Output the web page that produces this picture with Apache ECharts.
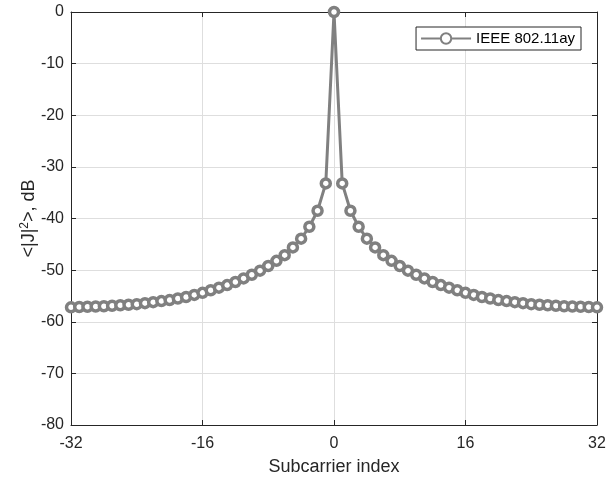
<!DOCTYPE html>
<html>
<head>
<meta charset="utf-8">
<script src="https://cdn.jsdelivr.net/npm/echarts@6/dist/echarts.min.js"></script>
<style>
  html, body { margin: 0; padding: 0; background: #fff; }
  #chart { width: 616px; height: 479px; }
</style>
</head>
<body>
<div id="chart"></div>
<script>
// Subcarrier indices -32..32
const subcarriers = [
  -32, -31, -30, -29, -28, -27, -26, -25, -24, -23, -22, -21, -20, -19, -18, -17,
  -16, -15, -14, -13, -12, -11, -10, -9, -8, -7, -6, -5, -4, -3, -2, -1,
  0,
  1, 2, 3, 4, 5, 6, 7, 8, 9, 10, 11, 12, 13, 14, 15, 16,
  17, 18, 19, 20, 21, 22, 23, 24, 25, 26, 27, 28, 29, 30, 31, 32
];

// Mean interference power <|J|^2> per subcarrier, dB
const powerDb = [
  -57.2, -57.15, -57.1, -57.05, -57.0, -56.9, -56.8, -56.7, -56.6, -56.4, -56.2, -56.0, -55.8, -55.5, -55.2, -54.8,
  -54.4, -53.9, -53.4, -52.9, -52.3, -51.6, -50.9, -50.1, -49.2, -48.2, -47.1, -45.6, -43.9, -41.6, -38.5, -33.2,
  0,
  -33.2, -38.5, -41.6, -43.9, -45.6, -47.1, -48.2, -49.2, -50.1, -50.9, -51.6, -52.3, -52.9, -53.4, -53.9, -54.4,
  -54.8, -55.2, -55.5, -55.8, -56.0, -56.2, -56.4, -56.6, -56.7, -56.8, -56.9, -57.0, -57.05, -57.1, -57.15, -57.2
];

const xTicks = [-32, -16, 0, 16, 32];
const yTicks = [-80, -70, -60, -50, -40, -30, -20, -10, 0];
const seriesName = 'IEEE 802.11ay';

const FONT = 'Liberation Sans, Arial, Helvetica, sans-serif';
const AXIS_COLOR = '#262626';
const GRID_COLOR = '#dedede';
const LINE_COLOR = '#808080';

const chart = echarts.init(document.getElementById('chart'), null, { renderer: 'canvas' });

const points = subcarriers.map((x, i) => [x, powerDb[i]]);

const xBase = {
  type: 'value',
  min: xTicks[0],
  max: xTicks[xTicks.length - 1],
  interval: 16,
  axisLine: { show: true, onZero: false, lineStyle: { color: AXIS_COLOR, width: 1 } },
  axisTick: { show: true, inside: true, length: 5, lineStyle: { color: AXIS_COLOR } }
};
const yBase = {
  type: 'value',
  min: yTicks[0],
  max: yTicks[yTicks.length - 1],
  interval: 10,
  axisLine: { show: true, onZero: false, lineStyle: { color: AXIS_COLOR, width: 1 } },
  axisTick: { show: true, inside: true, length: 5, lineStyle: { color: AXIS_COLOR } }
};

chart.setOption({
  backgroundColor: '#ffffff',
  animation: false,
  textStyle: { fontFamily: FONT },
  grid: { left: 71, right: 19, top: 12, bottom: 54, containLabel: false, outerBoundsMode: 'none' },
  legend: {
    data: [seriesName],
    right: 35,
    top: 27,
    backgroundColor: '#ffffff',
    borderColor: '#262626',
    borderWidth: 1,
    borderRadius: 0,
    padding: [4, 6, 4, 4],
    itemWidth: 50,
    itemHeight: 13,
    itemGap: 4,
    textStyle: { fontFamily: FONT, fontSize: 15, color: '#000' }
  },
  xAxis: [
    Object.assign({}, xBase, {
      position: 'bottom',
      name: 'Subcarrier index',
      nameLocation: 'middle',
      nameMoveOverlap: false,
      nameGap: 33,
      nameTextStyle: { fontFamily: FONT, fontSize: 18, color: '#262626' },
      axisLabel: { fontFamily: FONT, fontSize: 16, color: '#262626', margin: 11 },
      splitLine: { show: true, lineStyle: { color: GRID_COLOR, width: 1 } }
    }),
    Object.assign({}, xBase, {
      position: 'top',
      axisLabel: { show: false },
      splitLine: { show: false }
    })
  ],
  yAxis: [
    Object.assign({}, yBase, {
      position: 'left',
      name: '<|J|{sup|2}>, dB',
      nameLocation: 'middle',
      nameMoveOverlap: false,
      nameGap: 31,
      nameRotate: 90,
      nameTextStyle: {
        fontFamily: FONT, fontSize: 18, color: '#262626',
        rich: { sup: { fontFamily: FONT, fontSize: 12, color: '#262626', verticalAlign: 'top', padding: [0, 0, 9, 0] } }
      },
      axisLabel: { fontFamily: FONT, fontSize: 16, color: '#262626', margin: 7 },
      splitLine: { show: true, lineStyle: { color: GRID_COLOR, width: 1 } }
    }),
    Object.assign({}, yBase, {
      position: 'right',
      axisLabel: { show: false },
      splitLine: { show: false }
    })
  ],
  series: [{
    name: seriesName,
    type: 'line',
    xAxisIndex: 0,
    yAxisIndex: 0,
    data: points,
    symbol: 'circle',
    symbolSize: 9,
    lineStyle: { color: LINE_COLOR, width: 3 },
    itemStyle: { color: '#ffffff', borderColor: LINE_COLOR, borderWidth: 3.5 },
    emphasis: { disabled: true }
  }]
});
</script>
</body>
</html>
